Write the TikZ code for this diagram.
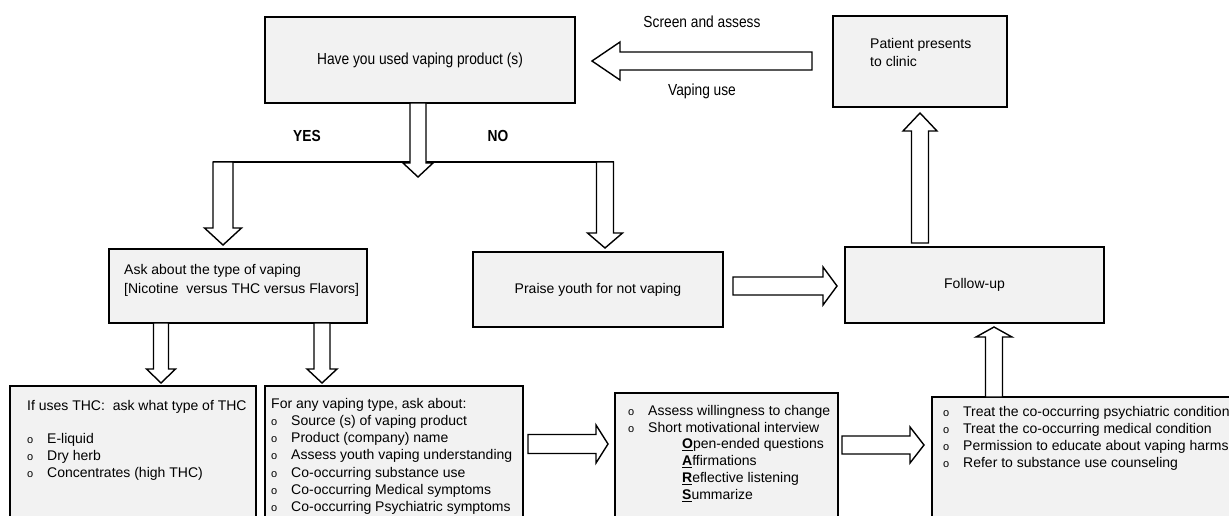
\documentclass[tikz,border=0pt]{standalone}
\usepackage{fontspec}
\setmainfont{Liberation Sans}
\newfontfamily\narrowfont[FakeStretch=0.86]{Liberation Sans}
\usetikzlibrary{calc}
\definecolor{boxgray}{RGB}{242,242,242}
\newcommand{\bul}{\makebox[20pt][l]{\fontsize{11}{11}\selectfont o}}
\newcommand{\firstline}{\rule{0pt}{12pt}}
% hollow block arrow: tail, tip, half shaft, half head, head length
\newcommand{\blockarrow}[5]{%
  \coordinate (hb) at ($(#2)!#5!(#1)$);
  \draw [hollow] ($(#1)!#3!90:(#2)$) -- ($(hb)!#3!90:(#2)$) -- ($(hb)!#4!90:(#2)$) -- (#2)
    -- ($(hb)!#4!-90:(#2)$) -- ($(hb)!#3!-90:(#2)$) -- ($(#1)!#3!-90:(#2)$) -- cycle;}

\begin{document}
\begin{tikzpicture}[x=1pt,y=-1pt]
\tikzstyle{box} = [draw, line width=1.6pt, fill=boxgray, inner sep=0pt, font={\fontsize{14}{17}\selectfont}]
\tikzstyle{txt} = [anchor=north west, inner sep=0pt, align=left]
\tikzstyle{lbl} = [inner sep=0pt, font={\narrowfont\fontsize{16}{18}\selectfont}]
\tikzstyle{hollow} = [draw, fill=white, line width=1.4pt, line join=miter]
\useasboundingbox (0,0) rectangle (1229,515);
\clip (0,0) rectangle (1229,515);

\node [box, minimum width=310pt, minimum height=86pt, font={\narrowfont\fontsize{16}{18}\selectfont}] (have) at (420,60) {Have you used vaping product (s)};
\node [box, minimum width=174pt, minimum height=91pt] (patient) at (920,61.5) {};
\node [box, minimum width=258pt, minimum height=74pt] (ask) at (238,286) {};
\node [box, minimum width=250pt, minimum height=75pt] (praise) at (598,289.5) {Praise youth for not vaping};
\node [box, minimum width=259pt, minimum height=76pt] (follow) at (974.5,285) {Follow-up};
\node [box, minimum width=246pt, minimum height=154pt] (thc) at (133,463) {};
\node [box, minimum width=258pt, minimum height=154pt] (any) at (394,463) {};
\node [box, minimum width=223pt, minimum height=147pt] (motiv) at (726.5,466.5) {};
\node [box, minimum width=313pt, minimum height=143pt] (treat) at (1088.5,468.5) {};

\node [txt, font={\fontsize{14}{18}\selectfont}] (patient-t) at (870,36) {\firstline Patient presents\\to clinic};
\node [txt, font={\fontsize{14}{19}\selectfont}] (ask-t) at (124,262) {\firstline Ask about the type of vaping\\{}[Nicotine\ \ versus THC versus Flavors]};
\node [txt, font={\fontsize{14}{17}\selectfont}] (thc-t) at (27,398) {\firstline If uses THC:\ \ ask what type of THC\\[16pt]
  \bul E-liquid\\ \bul Dry herb\\ \bul Concentrates (high THC)};
\node [txt, font={\fontsize{14}{17.2}\selectfont}] (any-t) at (271,396) {\firstline For any vaping type, ask about:\\
  \bul Source (s) of vaping product\\ \bul Product (company) name\\ \bul Assess youth vaping understanding\\
  \bul Co-occurring substance use\\ \bul Co-occurring Medical symptoms\\ \bul Co-occurring Psychiatric symptoms};
\node [txt, font={\fontsize{14}{16.8}\selectfont}] (motiv-t) at (628,403) {\firstline \bul Assess willingness to change\\
  \bul Short motivational interview\\ \hspace*{54pt}\underline{\textbf{O}}pen-ended questions\\
  \hspace*{54pt}\underline{\textbf{A}}ffirmations\\ \hspace*{54pt}\underline{\textbf{R}}eflective listening\\
  \hspace*{54pt}\underline{\textbf{S}}ummarize};
\node [txt, font={\fontsize{14}{17}\selectfont}] (treat-t) at (943,404) {\firstline \bul Treat the co-occurring psychiatric condition\\
  \bul Treat the co-occurring medical condition\\ \bul Permission to educate about vaping harms\\
  \bul Refer to substance use counseling};

\node [lbl] (screen) at (702,22) {Screen and assess};
\node [lbl] (vuse) at (702,91) {Vaping use};
\node [lbl] (yes) at (307,136) {\bfseries YES};
\node [lbl] (no) at (498,136) {\bfseries NO};

\coordinate (scr-a) at (812,61);  \coordinate (scr-b) at (592,61);
\coordinate (ans-a) at (418,103); \coordinate (ans-b) at (418,177);
\coordinate (yes-a) at (223,162); \coordinate (yes-b) at (223,245);
\coordinate (no-a) at (605,162);  \coordinate (no-b) at (605,248);
\coordinate (typ-a) at (161,323); \coordinate (typ-b) at (161,383);
\coordinate (any-a) at (322,323); \coordinate (any-b) at (322,383);
\coordinate (prs-a) at (733,286); \coordinate (prs-b) at (837,286);
\coordinate (fup-a) at (920,243); \coordinate (fup-b) at (920,113);
\coordinate (mot-a) at (528,444); \coordinate (mot-b) at (608,444);
\coordinate (trt-a) at (842,445); \coordinate (trt-b) at (924,445);
\coordinate (ret-a) at (994,397); \coordinate (ret-b) at (994,327);

\draw [line width=1.4pt] ([xshift=-10pt]yes-a) -- ([xshift=8.5pt]no-a);

\blockarrow{scr-a}{scr-b}{9pt}{19pt}{28pt}
\blockarrow{ans-a}{ans-b}{8pt}{15pt}{14pt}
\blockarrow{yes-a}{yes-b}{10pt}{18.5pt}{17pt}
\blockarrow{no-a}{no-b}{8.5pt}{17.5pt}{15pt}
\blockarrow{typ-a}{typ-b}{7.5pt}{14.5pt}{14pt}
\blockarrow{any-a}{any-b}{8pt}{15pt}{14pt}
\blockarrow{prs-a}{prs-b}{9pt}{19pt}{14pt}
\blockarrow{fup-a}{fup-b}{8.5pt}{17pt}{18pt}
\blockarrow{mot-a}{mot-b}{9.5pt}{19pt}{12pt}
\blockarrow{trt-a}{trt-b}{9pt}{18pt}{14pt}
\blockarrow{ret-a}{ret-b}{8.5pt}{18pt}{10pt}
\end{tikzpicture}
\end{document}
